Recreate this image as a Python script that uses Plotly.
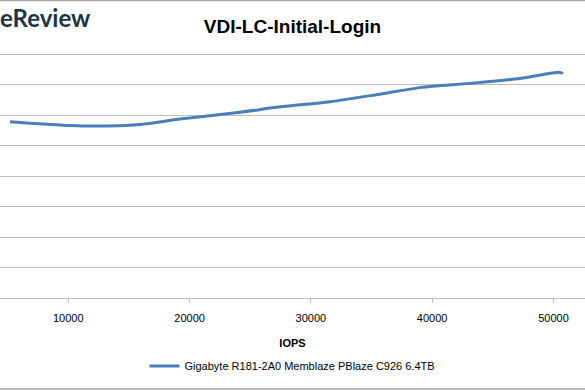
import plotly.graph_objects as go

# Data (y-axis labels are cropped out of the picture)
iops = [5190, 8490, 11620, 15910, 19210, 24150, 27450, 31570, 35280, 38990, 43120, 47240, 50540, 50780]
latency = [5.78, 5.69, 5.64, 5.69, 5.87, 6.09, 6.27, 6.44, 6.66, 6.90, 7.04, 7.20, 7.40, 7.36]
x_ticks = [10000, 20000, 30000, 40000, 50000]
y_ticks = [0, 1, 2, 3, 4, 5, 6, 7, 8]
series_name = "Gigabyte R181-2A0 Memblaze PBlaze C926 6.4TB"
title_text = "VDI-LC-Initial-Login"
x_title = "IOPS"

W, H = 585, 390
top, bottom = 48, 298
ymax = 8.2

fig = go.Figure()
fig.add_trace(go.Scatter(
    x=iops, y=latency, mode="lines", name=series_name,
    line=dict(color="#4a7ebb", width=3, shape="spline", smoothing=0.8),
))

ph = bottom - top
def py(pix):
    return (bottom - pix) / ph

fig.update_layout(
    width=W, height=H,
    margin=dict(l=0, r=0, t=top, b=H - bottom, autoexpand=False),
    paper_bgcolor="white", plot_bgcolor="white",
    font=dict(family="Liberation Sans", size=11, color="#000000"),
    title=dict(text="<b>" + title_text + "</b>", x=0.5, xanchor="center",
               y=1 - 26 / H, yanchor="middle",
               font=dict(family="Liberation Sans", size=19, color="#000000")),
    showlegend=True,
    legend=dict(orientation="h", x=0.5, xanchor="center", y=py(366), yanchor="middle",
                itemwidth=30, font=dict(size=11, color="#000000")),
    xaxis=dict(range=[4370, 52600], tickvals=x_ticks, ticktext=[str(v) for v in x_ticks],
               showgrid=False, zeroline=False, showline=True, linecolor="#bfbfbf", linewidth=1,
               ticks="outside", ticklen=4, tickcolor="#bfbfbf", ticklabelstandoff=6,
               tickfont=dict(size=11, color="#000000"),
               title=dict(text="<b>" + x_title + "</b>", font=dict(size=11, color="#000000"), standoff=16)),
    yaxis=dict(range=[0, ymax], tickvals=y_ticks, showticklabels=False,
               showgrid=True, gridcolor="#bfbfbf", gridwidth=1, zeroline=False, showline=False),
    shapes=[
        dict(type="line", xref="paper", yref="paper", x0=0, x1=1, y0=py(0.5), y1=py(0.5),
             line=dict(color="#a6a6a6", width=1.5)),
        dict(type="line", xref="paper", yref="paper", x0=0, x1=1, y0=py(389), y1=py(389),
             line=dict(color="#a6a6a6", width=1.5)),
    ],
    annotations=[
        dict(text="<b>eReview</b>", xref="paper", yref="paper", x=-0.003, xanchor="left",
             y=py(18), yanchor="middle", showarrow=False,
             font=dict(family="Lato", size=24, color="#1d3444")),
    ],
)

fig.write_html("out.html", config={"displayModeBar": False},
               post_script="document.body.style.margin='0';")
